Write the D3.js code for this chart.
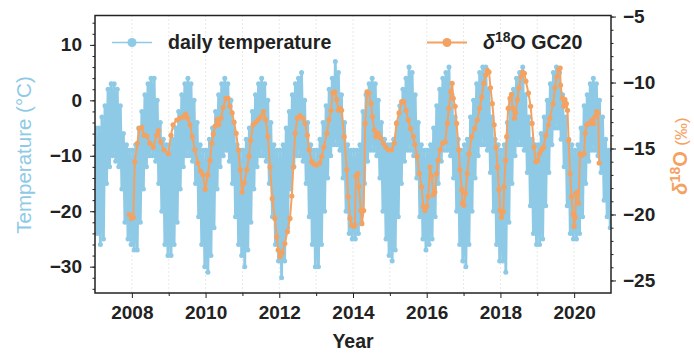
<!DOCTYPE html>
<html>
<head>
<meta charset="utf-8">
<script src="https://cdn.jsdelivr.net/npm/d3@7"></script>
<style>
  body { margin: 0; background: #fff; }
  text { font-family: "Liberation Sans", Arial, sans-serif; }
</style>
</head>
<body>
<svg id="chart" width="694" height="356"></svg>
<script>
// d18O GC20 samples: decimal year and value (permil)
var isoYear = [2007.93,2007.99,2008.04,2008.08,2008.15,2008.20,2008.27,2008.33,2008.40,2008.49,2008.58,2008.67,2008.72,2008.78,2008.87,2008.99,
  2009.06,2009.12,2009.22,2009.31,2009.40,2009.46,2009.51,2009.58,2009.64,2009.71,2009.79,2009.86,2009.93,2009.99,
  2010.06,2010.12,2010.17,2010.21,2010.26,2010.31,2010.36,2010.42,2010.48,2010.55,2010.61,2010.66,2010.72,2010.77,2010.83,2010.89,2010.94,2010.99,
  2011.05,2011.12,2011.18,2011.22,2011.29,2011.37,2011.43,2011.50,2011.57,2011.63,2011.69,2011.75,2011.81,2011.88,2011.93,2011.97,
  2012.02,2012.08,2012.15,2012.22,2012.29,2012.34,2012.38,2012.43,2012.49,2012.56,2012.64,2012.70,2012.76,2012.81,2012.88,2012.94,
  2013.01,2013.10,2013.15,2013.21,2013.29,2013.35,2013.40,2013.45,2013.51,2013.56,2013.60,2013.65,2013.69,2013.76,2013.83,2013.87,2013.92,2013.96,
  2014.02,2014.05,2014.08,2014.13,2014.16,2014.21,2014.24,2014.29,2014.33,2014.38,2014.43,2014.49,2014.53,2014.58,2014.62,2014.69,2014.75,2014.82,2014.89,2014.96,
  2015.05,2015.12,2015.18,2015.25,2015.32,2015.38,2015.44,2015.50,2015.56,2015.64,2015.68,2015.74,2015.80,2015.86,2015.91,2015.95,
  2016.00,2016.04,2016.09,2016.13,2016.18,2016.22,2016.27,2016.31,2016.36,2016.43,2016.50,2016.56,2016.60,2016.65,2016.69,2016.72,2016.77,2016.81,2016.87,2016.90,2016.95,2016.97,
  2017.01,2017.05,2017.10,2017.15,2017.22,2017.30,2017.37,2017.44,2017.49,2017.55,2017.60,2017.64,2017.69,2017.73,2017.78,2017.83,2017.88,2017.92,2017.96,2017.99,
  2018.03,2018.08,2018.10,2018.14,2018.17,2018.21,2018.26,2018.30,2018.33,2018.38,2018.41,2018.46,2018.50,2018.56,2018.60,2018.65,2018.69,2018.76,2018.82,2018.86,2018.91,2018.96,
  2019.01,2019.06,2019.12,2019.17,2019.23,2019.30,2019.34,2019.43,2019.48,2019.53,2019.58,2019.62,2019.63,2019.68,2019.72,2019.75,2019.79,2019.82,2019.85,2019.89,2019.93,2019.97,
  2020.00,2020.03,2020.05,2020.09,2020.12,2020.16,2020.21,2020.27,2020.30,2020.34,2020.41,2020.48,2020.52,2020.56,2020.61,2020.65,2020.68];
var isoVal = [-20.0,-20.3,-20.2,-16.0,-14.6,-13.5,-13.4,-14.0,-14.05,-14.6,-14.9,-14.0,-13.65,-14.5,-15.1,-15.4,
  -14.0,-13.2,-12.84,-12.7,-12.6,-12.4,-12.7,-13.2,-14.1,-15.1,-16.1,-16.7,-17.0,-18.1,
  -17.0,-15.9,-14.6,-13.9,-13.3,-12.8,-13.2,-12.7,-11.9,-11.2,-11.2,-11.8,-12.3,-13.0,-13.85,-15.1,-16.6,-18.3,
  -17.6,-16.6,-15.6,-14.4,-13.2,-13.0,-12.8,-12.6,-12.2,-12.8,-14.1,-16.4,-18.8,-20.3,-21.7,-22.7,
  -23.2,-22.9,-22.2,-21.3,-20.3,-18.6,-16.4,-13.85,-12.7,-12.5,-12.7,-13.1,-14.0,-15.1,-16.0,-16.2,
  -16.25,-16.1,-15.6,-14.9,-13.85,-12.8,-12.1,-10.8,-10.7,-11.3,-12.1,-11.95,-12.1,-14.1,-16.6,-18.65,-20.3,-20.8,
  -20.9,-20.8,-17.1,-16.9,-17.9,-19.7,-20.7,-19.7,-13.1,-10.7,-10.8,-11.6,-12.6,-13.6,-14.1,-13.85,-14.2,-14.6,-14.9,-15.1,
  -15.1,-14.6,-13.1,-12.3,-11.45,-11.45,-12.1,-12.84,-13.5,-14.1,-14.7,-15.6,-16.9,-17.9,-19.4,-19.7,
  -19.4,-18.65,-16.4,-17.1,-18.5,-18.3,-16.9,-15.9,-15.1,-14.6,-14.5,-13.1,-11.95,-10.7,-10.06,-11.2,-11.8,-13.1,-15.1,-16.6,-18.1,-19.15,
  -19.3,-18.4,-16.9,-15.4,-14.1,-13.5,-12.84,-11.95,-11.1,-10.06,-9.43,-9.05,-9.2,-10.4,-11.6,-13.2,-14.9,-16.4,-18.1,-19.7,
  -20.2,-19.8,-17.9,-15.9,-14.1,-11.95,-11.2,-10.9,-11.95,-12.7,-12.3,-11.3,-10.4,-9.56,-9.2,-9.3,-9.9,-10.8,-11.8,-13.1,-14.9,-16.0,
  -15.9,-15.4,-15.1,-14.9,-14.0,-13.2,-12.7,-11.6,-10.4,-9.56,-9.0,-8.9,-10.2,-11.2,-11.8,-11.3,-11.6,-12.1,-14.4,-16.9,-18.65,-20.0,
  -20.9,-20.2,-18.4,-18.3,-19.15,-15.4,-15.5,-15.4,-13.85,-13.2,-13.1,-12.84,-13.1,-12.6,-12.2,-12.3,-16.1];

// daily temperature, read as monthly upper and lower values (deg C), Jan..Dec
var tempYears = [2007,2008,2009,2010,2011,2012,2013,2014,2015,2016,2017,2018,2019,2020];
var tempHigh = [
  [-5,-5,-3,-1,2,3,3,2,-1,-6,-8,-9],
  [-9,-8,-5,-2,1,3,4,4,0,-4,-7,-8],
  [-8,-7,-5,-2,1,3,4,3,0,-4,-8,-9],
  [-9,-7,-5,-2,1,3,4,3,0,-4,-8,-9],
  [-9,-7,-5,-2,1,3,4,3,0,-4,-8,-9],
  [-9,-8,-5,-2,1,3,4,5,0,-4,-8,-9],
  [-9,-7,-4,-1,2,4,7,5,1,-4,-8,-9],
  [-9,-9,-8,-2,1,3,4,3,0,-4,-7,-8],
  [-8,-7,-4,-1,2,4,6,5,1,-4,-8,-9],
  [-9,-8,-5,-1,2,4,5,6,1,-3,-7,-9],
  [-8,-7,-3,0,3,5,6,6,2,-3,-7,-8],
  [-9,-8,-4,0,2,4,5,6,1,-3,-7,-8],
  [-8,-6,-3,0,3,5,6,5,1,-3,-7,-8],
  [-9,-8,-5,-1,1,3,4,3,0,-3,-7,-9]];
var tempLow = [
  [-24,-26,-25,-15,-12,-10,-11,-12,-16,-22,-25,-26],
  [-27,-27,-22,-16,-12,-10,-10,-11,-15,-20,-26,-28],
  [-28,-26,-22,-16,-12,-10,-10,-11,-15,-21,-26,-30],
  [-31,-28,-23,-16,-12,-10,-9,-11,-15,-21,-26,-28],
  [-30,-27,-22,-16,-12,-10,-10,-11,-15,-21,-26,-29],
  [-32,-29,-23,-16,-12,-10,-10,-11,-15,-21,-26,-30],
  [-30,-26,-20,-14,-10,-8,-8,-9,-14,-20,-24,-25],
  [-25,-24,-22,-15,-11,-9,-9,-10,-14,-20,-25,-28],
  [-29,-27,-21,-15,-11,-9,-9,-10,-14,-21,-25,-27],
  [-26,-25,-21,-15,-11,-9,-9,-10,-14,-20,-26,-29],
  [-30,-26,-20,-14,-10,-8,-8,-9,-13,-20,-26,-29],
  [-29,-31,-22,-15,-10,-8,-8,-9,-13,-19,-24,-26],
  [-26,-25,-19,-13,-8,-5,-5,-7,-12,-19,-24,-25],
  [-25,-24,-21,-15,-11,-9,-9,-10,-13,-18,-21,-23]];

var yearTicks = [2008,2010,2012,2014,2016,2018,2020];
var tempTicks = [-30,-20,-10,0,10];
var isoTicks = [-25,-20,-15,-10,-5];

var blue = "#8ecae6", orange = "#f4a261";
var pL = 95, pR = 611, pT = 15.5, pB = 293;

var svg = d3.select("#chart");
var x = d3.scaleLinear().domain([2007, 2021]).range([pL, pR]);
var yT = d3.scaleLinear().domain([-34.75, 15.3]).range([pB, pT]);
var yO = d3.scaleLinear().domain([-25.95, -4.92]).range([pB, pT]);

svg.append("clipPath").attr("id", "plotclip")
  .append("rect").attr("x", pL).attr("y", pT).attr("width", pR - pL).attr("height", pB - pT);

// dotted year grid
svg.append("g").selectAll("line").data(d3.range(2008, 2021)).join("line")
  .attr("x1", d => x(d)).attr("x2", d => x(d))
  .attr("y1", pT).attr("y2", pB)
  .attr("stroke", "#c8c8c8").attr("stroke-width", 0.8).attr("stroke-dasharray", "1,3");

// temperature points: upper then lower value in every month
var temp = [];
tempYears.forEach(function(yr, i) {
  for (var m = 0; m < 12; m++) {
    temp.push({t: yr + (m + 0.25) / 12, v: tempHigh[i][m]});
    temp.push({t: yr + (m + 0.75) / 12, v: tempLow[i][m]});
  }
});
var iso = isoYear.map(function(t, i) { return {t: t, v: isoVal[i]}; });

var plot = svg.append("g").attr("clip-path", "url(#plotclip)");
plot.append("path").datum(temp)
  .attr("d", d3.line().x(d => x(d.t)).y(d => yT(d.v)))
  .attr("fill", "none").attr("stroke", blue).attr("stroke-width", 2.8).attr("stroke-linejoin", "round");
plot.append("g").selectAll("circle").data(temp).join("circle")
  .attr("cx", d => x(d.t)).attr("cy", d => yT(d.v)).attr("r", 2.5).attr("fill", blue);

plot.append("path").datum(iso)
  .attr("d", d3.line().x(d => x(d.t)).y(d => yO(d.v)))
  .attr("fill", "none").attr("stroke", orange).attr("stroke-width", 2);
plot.append("g").selectAll("circle").data(iso).join("circle")
  .attr("cx", d => x(d.t)).attr("cy", d => yO(d.v)).attr("r", 2.6).attr("fill", orange);

// axes
var fmt = d3.format("d");
function styleAxis(g) {
  g.select(".domain").remove();
  g.selectAll(".tick line").attr("stroke", "#222").attr("stroke-width", 1);
  g.selectAll(".tick text").attr("fill", "#222").style("font-size", "19px").style("font-weight", "bold");
}
svg.append("g").attr("transform", "translate(" + pL + ",0)")
  .call(d3.axisLeft(yT).tickValues(d3.range(-34, 15, 2)).tickSize(2.5).tickFormat(""))
  .call(styleAxis);
svg.append("g").attr("transform", "translate(" + pL + ",0)")
  .call(d3.axisLeft(yT).tickValues(tempTicks).tickSize(5).tickPadding(8).tickFormat(fmt))
  .call(styleAxis);
svg.append("g").attr("transform", "translate(" + pR + ",0)")
  .call(d3.axisRight(yO).tickValues(d3.range(-25, -4, 1)).tickSize(2.5).tickFormat(""))
  .call(styleAxis);
svg.append("g").attr("transform", "translate(" + pR + ",0)")
  .call(d3.axisRight(yO).tickValues(isoTicks).tickSize(5).tickPadding(7).tickFormat(fmt))
  .call(styleAxis);
svg.append("g").attr("transform", "translate(0," + pB + ")")
  .call(d3.axisBottom(x).tickValues(d3.range(2009, 2021, 2)).tickSize(3).tickFormat(""))
  .call(styleAxis);
svg.append("g").attr("transform", "translate(0," + pB + ")")
  .call(d3.axisBottom(x).tickValues(yearTicks).tickSize(5).tickPadding(8).tickFormat(fmt))
  .call(styleAxis);

svg.append("rect").attr("x", pL).attr("y", pT).attr("width", pR - pL).attr("height", pB - pT)
  .attr("fill", "none").attr("stroke", "#222").attr("stroke-width", 1.5);

// axis titles
svg.append("text").attr("x", (pL + pR) / 2).attr("y", 348)
  .attr("text-anchor", "middle").style("font-size", "19.5px").style("font-weight", "bold").attr("fill", "#222")
  .text("Year");
svg.append("text").attr("transform", "translate(31,155) rotate(-90)")
  .attr("text-anchor", "middle").style("font-size", "20.5px").attr("fill", blue)
  .text("Temperature (°C)");
var rt = svg.append("text").attr("transform", "translate(687,156) rotate(-90)")
  .attr("text-anchor", "middle").style("font-size", "20px").style("font-weight", "bold").attr("fill", orange);
rt.append("tspan").style("font-style", "italic").text("δ");
rt.append("tspan").attr("dy", -7).style("font-size", "14px").text("18");
rt.append("tspan").attr("dy", 7).text("O ");
rt.append("tspan").style("font-weight", "normal").style("font-size", "17px").text("(‰)");

// legend
var lg = svg.append("g");
lg.append("line").attr("x1", 112).attr("x2", 152).attr("y1", 42.5).attr("y2", 42.5).attr("stroke", blue).attr("stroke-width", 1.5);
lg.append("circle").attr("cx", 132).attr("cy", 42.5).attr("r", 4.5).attr("fill", blue);
lg.append("text").attr("x", 168).attr("y", 49).style("font-size", "19.6px").style("font-weight", "bold").attr("fill", "#222")
  .text("daily temperature");
lg.append("line").attr("x1", 427).attr("x2", 467).attr("y1", 42.5).attr("y2", 42.5).attr("stroke", orange).attr("stroke-width", 2);
lg.append("circle").attr("cx", 447).attr("cy", 42.5).attr("r", 4.5).attr("fill", orange);
var lt = lg.append("text").attr("x", 483).attr("y", 49).style("font-size", "19.6px").style("font-weight", "bold").attr("fill", "#222");
lt.append("tspan").style("font-style", "italic").text("δ");
lt.append("tspan").attr("dy", -7).style("font-size", "14px").text("18");
lt.append("tspan").attr("dy", 7).text("O GC20");
</script>
</body>
</html>
